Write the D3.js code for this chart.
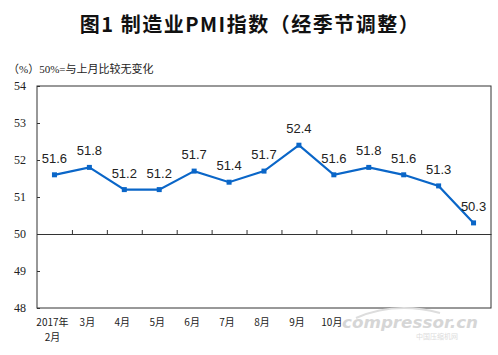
<!DOCTYPE html>
<html>
<head>
<meta charset="utf-8">
<script src="https://cdn.jsdelivr.net/npm/d3@7"></script>
<style>
  body { margin: 0; background: #fff; }
  svg { display: block; }
</style>
</head>
<body>
<script>
// chart data
const months = ['2017年2月', '3月', '4月', '5月', '6月', '7月', '8月', '9月', '10月', '11月', '12月', '2018年1月', '2月']
const pmi = [51.6, 51.8, 51.2, 51.2, 51.7, 51.4, 51.7, 52.4, 51.6, 51.8, 51.6, 51.3, 50.3]
const yTicks = [48, 49, 50, 51, 52, 53, 54]
// month labels after 10月 sit under the site watermark in the picture
const shownLabels = 9

const width = 498
const height = 355
const plot = { left: 37, right: 491, top: 86, bottom: 308 }

const svg = d3.select('body').append('svg').attr('width', width).attr('height', height)

// title + note
svg.append('text')
	.attr('x', 250).attr('y', 32)
	.attr('text-anchor', 'middle')
	.style('font-family', '"Noto Sans CJK SC", sans-serif')
	.style('font-weight', 'bold')
	.style('font-size', '20px')
	.style('letter-spacing', '1.5px')
	.attr('fill', '#111')
	.text('图1 制造业PMI指数（经季节调整）')

svg.append('text')
	.attr('x', 8).attr('y', 73)
	.style('font-family', '"Liberation Serif", "Noto Sans CJK SC", serif')
	.style('font-size', '11px')
	.attr('fill', '#222')
	.text('（%）50%=与上月比较无变化')

const x = d3.scaleBand().domain(months).range([plot.left, plot.right])
const y = d3.scaleLinear().domain([48, 54]).range([plot.bottom, plot.top])

// frame
svg.append('rect')
	.attr('x', plot.left).attr('y', plot.top)
	.attr('width', plot.right - plot.left).attr('height', plot.bottom - plot.top)
	.attr('fill', 'none').attr('stroke', '#333').attr('stroke-width', 1)

// y axis ticks (inside)
const yAxis = svg.append('g')
	.attr('transform', `translate(${plot.left},0)`)
	.call(d3.axisRight(y).tickValues(yTicks).tickSize(3).tickFormat(''))
yAxis.select('.domain').remove()
yAxis.selectAll('line').attr('stroke', '#333')

svg.selectAll('.ylab')
	.data(yTicks)
	.enter()
	.append('text')
	.attr('class', 'ylab')
	.attr('x', 26)
	.attr('y', d => y(d) + 4)
	.attr('text-anchor', 'end')
	.style('font-family', '"Liberation Serif", serif')
	.style('font-size', '12px')
	.attr('fill', '#222')
	.text(d => d)

// x axis on the 50 line, ticks pointing up
const xAxis = svg.append('g')
	.attr('transform', `translate(0,${y(50)})`)
	.call(d3.axisTop(d3.scaleLinear().domain([0, months.length]).range([plot.left, plot.right]))
		.tickValues(d3.range(1, months.length)).tickSize(4).tickFormat('').tickSizeOuter(0))
xAxis.selectAll('line, path').attr('stroke', '#333')

// x labels
const xl = svg.selectAll('.xlab')
	.data(months.slice(0, shownLabels))
	.enter()
	.append('text')
	.attr('class', 'xlab')
	.attr('text-anchor', 'middle')
	.style('font-family', '"Noto Sans CJK SC", sans-serif')
	.style('font-size', '10px')
	.attr('fill', '#222')
xl.each(function (d) {
	const m = d.match(/^(\d+年)(.+)$/)
	const t = d3.select(this)
	const cx = x(d) + x.bandwidth() / 2 - 2
	if (m) {
		t.append('tspan').attr('x', cx).attr('y', 326).text(m[1])
		t.append('tspan').attr('x', cx).attr('y', 341).text(m[2])
	} else {
		t.append('tspan').attr('x', cx).attr('y', 326).text(d)
	}
})

// line
const line = d3.line()
	.x((d, i) => x(months[i]) + x.bandwidth() / 2)
	.y(d => y(d))

svg.append('path')
	.datum(pmi)
	.attr('d', line)
	.attr('fill', 'none')
	.attr('stroke', '#0a66c8')
	.attr('stroke-width', 2.2)

svg.selectAll('.pt')
	.data(pmi)
	.enter()
	.append('rect')
	.attr('class', 'pt')
	.attr('x', (d, i) => x(months[i]) + x.bandwidth() / 2 - 2.5)
	.attr('y', d => y(d) - 2.5)
	.attr('width', 5).attr('height', 5)
	.attr('fill', '#0a66c8')

svg.selectAll('.val')
	.data(pmi)
	.enter()
	.append('text')
	.attr('class', 'val')
	.attr('x', (d, i) => x(months[i]) + x.bandwidth() / 2)
	.attr('y', d => y(d) - 12)
	.attr('text-anchor', 'middle')
	.style('font-family', '"Liberation Sans", Arial, sans-serif')
	.style('font-size', '13px')
	.attr('fill', '#222')
	.text(d => d.toFixed(1))

// watermark
const wm = svg.append('g')
wm.append('path')
	.attr('d', 'M356,318 Q395,301 440,313')
	.attr('fill', 'none').attr('stroke', '#ddd').attr('stroke-width', 2)
wm.append('text')
	.attr('x', 342).attr('y', 328)
	.attr('textLength', 136)
	.attr('lengthAdjust', 'spacingAndGlyphs')
	.style('font-family', '"DejaVu Sans", sans-serif')
	.style('font-size', '16px')
	.style('font-weight', 'bold')
	.style('font-style', 'italic')
	.attr('fill', '#d6d6d6')
	.text('compressor.cn')
wm.append('text')
	.attr('x', 416).attr('y', 339)
	.style('font-family', '"Noto Sans CJK SC", sans-serif')
	.style('font-size', '7px')
	.attr('fill', '#dcdcdc')
	.text('中国压缩机网')
</script>
</body>
</html>
